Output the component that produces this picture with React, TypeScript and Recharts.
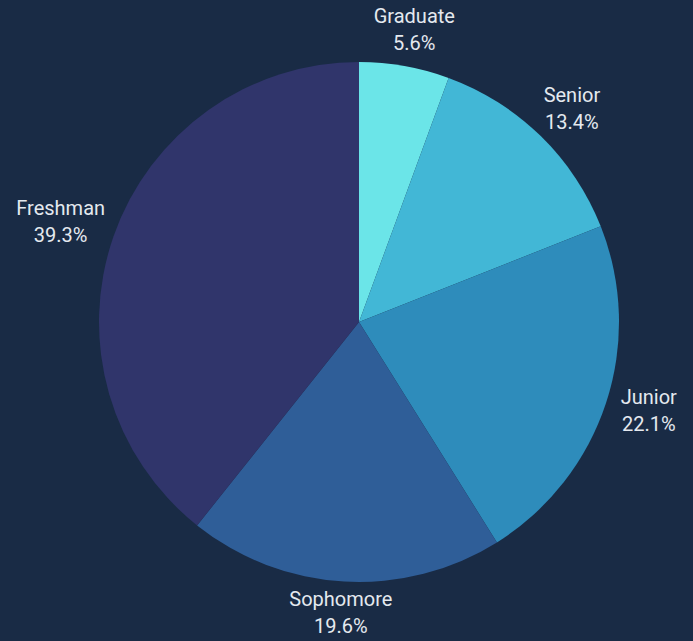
import React from "react";
import { PieChart, Pie, Cell } from "recharts";

const categories = ["Graduate", "Senior", "Junior", "Sophomore", "Freshman"];
const shares = [5.6, 13.4, 22.1, 19.6, 39.3];
const colors = ["#6be5e8", "#42b7d6", "#2e8cbb", "#2f5e98", "#30356b"];

const data = categories.map((name, i) => ({ name, value: shares[i] }));

const RAD = Math.PI / 180;
const FONT = 20;

const renderLabel = (props: any) => {
  const { cx, cy, midAngle, outerRadius, name, value } = props;
  const valText = `${value.toFixed(1)}%`;
  const ux = Math.cos(-midAngle * RAD);
  const uy = Math.sin(-midAngle * RAD);
  const r = outerRadius + 12;
  const ax = cx + r * ux;
  const ay = cy + r * uy;
  const w = Math.max(name.length, valText.length) * FONT * 0.55;
  const h = 44;
  const bx = ax + ux * (w / 2);
  const by = ay + uy * (h / 2) - 4;
  return (
    <text
      x={bx}
      y={by}
      textAnchor="middle"
      fill="#e4e9ef"
      fontSize={FONT}
      fontFamily="Roboto, 'Noto Sans', sans-serif"
    >
      <tspan x={bx} y={by - 13 + 7}>{name}</tspan>
      <tspan x={bx} y={by + 14 + 7}>{valText}</tspan>
    </text>
  );
};

export default function App() {
  return (
    <div
      style={{
        position: "fixed",
        left: 0,
        top: 0,
        width: 693,
        height: 641,
        background: "#192b45",
      }}
    >
      <PieChart width={693} height={641} margin={{ top: 0, right: 0, bottom: 0, left: 0 }}>
        <Pie
          data={data}
          dataKey="value"
          nameKey="name"
          cx={359}
          cy={322}
          outerRadius={260}
          startAngle={90}
          endAngle={-270}
          stroke="none"
          label={renderLabel}
          labelLine={false}
          isAnimationActive={false}
        >
          {data.map((d, i) => (
            <Cell key={d.name} fill={colors[i]} />
          ))}
        </Pie>
      </PieChart>
    </div>
  );
}
